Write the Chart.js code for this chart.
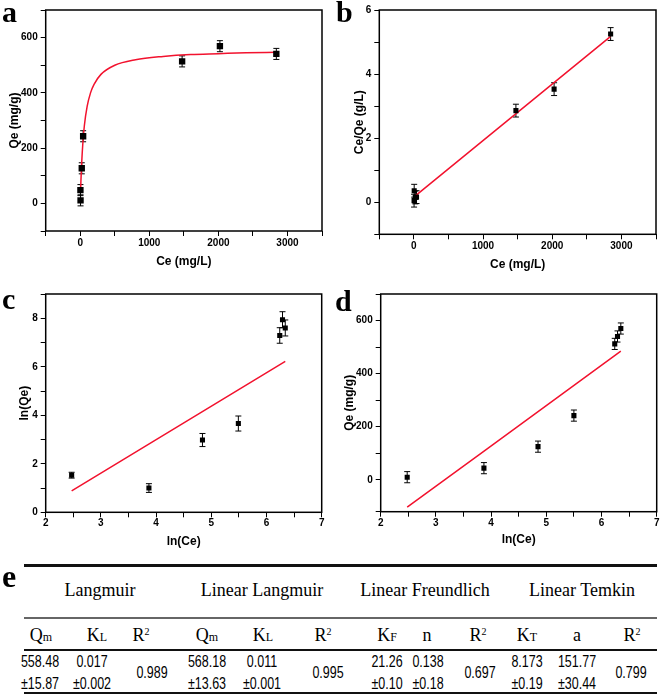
<!DOCTYPE html>
<html>
<head>
<meta charset="utf-8">
<script src="https://cdn.jsdelivr.net/npm/chart.js@4.4.1/dist/chart.umd.min.js"></script>
<style>
body { margin: 0; background: #fff; }
#fig { position: relative; width: 661px; height: 696px; overflow: hidden; background: #fff; }
canvas { position: absolute; }
.lbl { position: absolute; font: bold 30px "Liberation Serif", serif; line-height: 30px; color: #000; }
.rule { position: absolute; left: 24px; width: 633px; background: #111; }
.cell { position: absolute; transform: translate(-50%, -50%); white-space: nowrap; color: #000; line-height: 1.2; }
.cell.num { transform: translate(-50%, -50%) scaleX(0.78); }
.cell small { font-size: 12px; }
.cell sup { font-size: 10px; vertical-align: 6px; line-height: 0; }
</style>
</head>
<body>
<div id="fig">
  <canvas id="chartA" width="330" height="285" style="left:0;top:0"></canvas>
  <canvas id="chartB" width="331" height="285" style="left:330px;top:0"></canvas>
  <canvas id="chartC" width="330" height="275" style="left:0;top:285px"></canvas>
  <canvas id="chartD" width="331" height="275" style="left:330px;top:285px"></canvas>
  <div class="lbl" style="left:2px;top:-3px">a</div>
  <div class="lbl" style="left:336px;top:-3px">b</div>
  <div class="lbl" style="left:2px;top:284px">c</div>
  <div class="lbl" style="left:335px;top:286px">d</div>
  <div class="lbl" style="left:2px;top:561px;font-size:32px">e</div>
  <div class="rule" style="top:564px;height:2.5px"></div>
  <div class="rule" style="top:617px;height:1.5px;background:#666"></div>
  <div class="rule" style="top:649px;height:2px"></div>
  <div class="rule" style="top:692px;height:2px"></div>
</div>
<script>
// (a) nonlinear Langmuir: Qe vs Ce
var ceA = [4.5, 2.7, 22, 42, 1475, 2022, 2839];
var qeA = [11, 48, 127, 243, 514, 569, 541];
var errA = [20, 20, 20, 20, 20, 20, 20];
var fitCeA = [4.5, 10, 20, 40, 60, 100, 150, 200, 300, 500, 800, 1200, 1600, 2000, 2400, 2840];
var fitQeA = [40, 81, 142, 226, 282, 351, 401, 431, 467, 500, 520, 532, 539, 542, 545, 547];

// (b) linear Langmuir: Ce/Qe vs Ce
var ceB = [4.5, 2.7, 20, 38, 1475, 2027, 2844];
var ratioB = [0.36, 0.05, 0.15, 0.16, 2.86, 3.53, 5.25];
var errB = [0.2, 0.2, 0.2, 0.2, 0.2, 0.2, 0.2];
var fitCeB = [2.7, 2840];
var fitRatioB = [0.17, 5.17];

// (c) linear Freundlich: ln(Qe) vs ln(Ce)
var lnCeC = [2.47, 3.87, 4.84, 5.49, 6.24, 6.29, 6.34];
var lnQeC = [1.53, 1.0, 2.98, 3.66, 7.29, 7.94, 7.6];
var errC = [0.12, 0.18, 0.27, 0.31, 0.32, 0.33, 0.33];
var fitLnCeC = [2.47, 6.34];
var fitLnQeC = [0.88, 6.22];

// (d) linear Temkin: Qe vs ln(Ce)
var lnCeD = [2.48, 3.87, 4.85, 5.5, 6.24, 6.29, 6.35];
var qeD = [10, 44, 125, 242, 512, 540, 570];
var errD = [21, 21, 21, 21, 21, 21, 21];
var fitLnCeD = [2.48, 6.35];
var fitQeD = [-103, 485];

// (e) table
var models = ["Langmuir", "Linear Langmuir", "Linear Freundlich", "Linear Temkin"];
var paramNames = ["Q<small>m</small>", "K<small>L</small>", "R<sup>2</sup>",
                  "Q<small>m</small>", "K<small>L</small>", "R<sup>2</sup>",
                  "K<small>F</small>", "n", "R<sup>2</sup>",
                  "K<small>T</small>", "a", "R<sup>2</sup>"];
var paramValues = ["558.48", "0.017", "0.989", "568.18", "0.011", "0.995",
                   "21.26", "0.138", "0.697", "8.173", "151.77", "0.799"];
var paramErrors = ["±15.87", "±0.002", "", "±13.63", "±0.001", "",
                   "±0.10", "±0.18", "", "±0.19", "±30.44", ""];

var red = '#f2122e';
var tickFont = { family: '"Liberation Sans", Arial, sans-serif', size: 10, weight: 'bold' };
var titleFont = { family: '"Liberation Sans", Arial, sans-serif', size: 12, weight: 'bold' };

function toPoints(xs, ys) {
    return xs.map(function (v, i) { return { x: v, y: ys[i] }; });
}

// error bars under the squares, and a closed frame round the plot area
var boxAndBars = {
    id: 'boxAndBars',
    beforeDatasetsDraw: function (chart, args, opts) {
        var ctx = chart.ctx, sx = chart.scales.x, sy = chart.scales.y;
        ctx.save();
        ctx.strokeStyle = '#000';
        ctx.lineWidth = 1;
        chart.data.datasets[0].data.forEach(function (p, i) {
            var px = sx.getPixelForValue(p.x);
            var top = sy.getPixelForValue(p.y + opts.err[i]);
            var bot = sy.getPixelForValue(p.y - opts.err[i]);
            ctx.beginPath();
            ctx.moveTo(px, top); ctx.lineTo(px, bot);
            ctx.moveTo(px - 3, top); ctx.lineTo(px + 3, top);
            ctx.moveTo(px - 3, bot); ctx.lineTo(px + 3, bot);
            ctx.stroke();
        });
        ctx.restore();
    },
    afterDraw: function (chart) {
        var a = chart.chartArea, ctx = chart.ctx;
        ctx.save();
        ctx.strokeStyle = '#000';
        ctx.lineWidth = 1.5;
        ctx.strokeRect(a.left, a.top, a.right - a.left, a.bottom - a.top);
        ctx.restore();
    }
};

function scaleOpts(o) {
    return {
        type: 'linear',
        position: o.pos,
        min: o.min,
        max: o.max,
        afterFit: function (s) {
            if (o.pos === 'bottom') s.height = o.size; else s.width = o.size;
        },
        ticks: {
            stepSize: o.step,
            autoSkip: false,
            maxRotation: 0,
            color: '#000',
            font: tickFont,
            padding: o.tickPad,
            callback: function (v) {
                var k = v / o.major;
                return Math.abs(k - Math.round(k)) < 1e-6 ? v : '';
            }
        },
        grid: { drawOnChartArea: false, tickLength: 5, tickColor: '#000', tickWidth: 1 },
        border: { display: false },
        title: { display: true, text: o.title, color: '#000', font: titleFont, padding: o.titlePad }
    };
}

function makeChart(id, p) {
    return new Chart(document.getElementById(id), {
        type: 'scatter',
        data: {
            datasets: [
                {
                    data: toPoints(p.xs, p.ys),
                    pointStyle: 'rect',
                    pointRadius: p.r,
                    backgroundColor: '#000',
                    borderColor: '#000',
                    borderWidth: 0
                },
                {
                    data: toPoints(p.fitX, p.fitY),
                    showLine: true,
                    pointRadius: 0,
                    borderColor: red,
                    borderWidth: 1.5,
                    cubicInterpolationMode: 'monotone'
                }
            ]
        },
        options: {
            responsive: false,
            animation: false,
            layout: { padding: { top: p.pad[0], right: p.pad[1], bottom: 0, left: 0 } },
            plugins: {
                legend: { display: false },
                tooltip: { enabled: false },
                boxAndBars: { err: p.err }
            },
            scales: { x: scaleOpts(p.x), y: scaleOpts(p.y) }
        },
        plugins: [boxAndBars]
    });
}

makeChart('chartA', {
    xs: ceA, ys: qeA, err: errA, fitX: fitCeA, fitY: fitQeA, r: 4.5, pad: [10, 8],
    x: { pos: 'bottom', min: -500, max: 3500, step: 500, major: 1000, size: 54, tickPad: 1,
         title: 'Ce (mg/L)', titlePad: { top: 0, bottom: 15.8 } },
    y: { pos: 'left', min: -100, max: 700, step: 100, major: 200, size: 45.7, tickPad: 3,
         title: 'Qe (mg/g)', titlePad: { top: 7.8, bottom: 0 } }
});

makeChart('chartB', {
    xs: ceB, ys: ratioB, err: errB, fitX: fitCeB, fitY: fitRatioB, r: 3.6, pad: [10, 5],
    x: { pos: 'bottom', min: -500, max: 3500, step: 500, major: 1000, size: 50.7, tickPad: 1,
         title: 'Ce (mg/L)', titlePad: { top: 0, bottom: 12.8 } },
    y: { pos: 'left', min: -1, max: 6, step: 1, major: 2, size: 49.3, tickPad: 3,
         title: 'Ce/Qe (g/L)', titlePad: { top: 22.8, bottom: 0 } }
});

makeChart('chartC', {
    xs: lnCeC, ys: lnQeC, err: errC, fitX: fitLnCeC, fitY: fitLnQeC, r: 3.6, pad: [4, 8.3],
    x: { pos: 'bottom', min: 2, max: 7, step: 0.5, major: 1, size: 47.7, tickPad: 0,
         title: 'ln(Ce)', titlePad: { top: 0, bottom: 11.1 } },
    y: { pos: 'left', min: 0, max: 9, step: 1, major: 2, size: 45.7, tickPad: 3,
         title: 'ln(Qe)', titlePad: { top: 17.8, bottom: 0 } }
});

makeChart('chartD', {
    xs: lnCeD, ys: qeD, err: errD, fitX: fitLnCeD, fitY: fitQeD, r: 3.6, pad: [4, 4.3],
    x: { pos: 'bottom', min: 2, max: 7, step: 0.5, major: 1, size: 48.3, tickPad: 1,
         title: 'ln(Ce)', titlePad: { top: 0, bottom: 12.8 } },
    y: { pos: 'left', min: -120, max: 700, step: 100, major: 200, size: 50.7, tickPad: 3,
         title: 'Qe (mg/g)', titlePad: { top: 12.8, bottom: 0 } }
});

// table (e)
var fig = document.getElementById('fig');
function put(html, x, y, font, cls) {
    var d = document.createElement('div');
    d.className = 'cell' + (cls ? ' ' + cls : '');
    d.style.left = x + 'px';
    d.style.top = y + 'px';
    d.style.font = font;
    d.innerHTML = html;
    fig.appendChild(d);
}
var serif = '18px "Liberation Serif", serif';
var sans = '16px "Liberation Sans", sans-serif';
var modelX = [100, 262, 425, 582];
var headX = [41, 97, 141, 207, 263, 323, 387, 427, 478, 527, 577, 632];
var valX = [40, 92, 152, 207, 262, 328, 387, 428, 480, 527, 577, 631];

models.forEach(function (m, i) { put(m, modelX[i], 590, serif); });
paramNames.forEach(function (n, i) { put(n, headX[i], 635, serif); });
paramValues.forEach(function (v, i) {
    if (paramErrors[i]) {
        put(v, valX[i], 662, sans, 'num');
        put(paramErrors[i], valX[i], 684, sans, 'num');
    } else {
        put(v, valX[i], 673, sans, 'num');
    }
});
</script>
</body>
</html>
